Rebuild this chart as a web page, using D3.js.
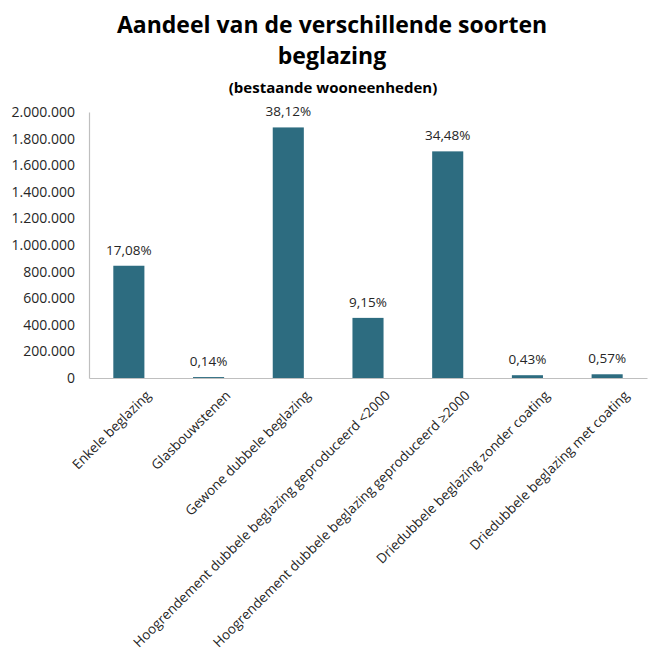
<!DOCTYPE html>
<html>
<head>
<meta charset="utf-8">
<script src="https://cdn.jsdelivr.net/npm/d3@7"></script>
<style>
  html, body { margin: 0; padding: 0; background: #ffffff; }
  svg { display: block; }
</style>
</head>
<body>
<svg id="chart" width="652" height="653"></svg>
<script>
const categories = [
  "Enkele beglazing",
  "Glasbouwstenen",
  "Gewone dubbele beglazing",
  "Hoogrendement dubbele beglazing geproduceerd <2000",
  "Hoogrendement dubbele beglazing geproduceerd \u22652000",
  "Driedubbele beglazing zonder coating",
  "Driedubbele beglazing met coating"
];
const values = [844000, 7000, 1884000, 452000, 1704000, 21000, 28000];
const percentLabels = ["17,08%", "0,14%", "38,12%", "9,15%", "34,48%", "0,43%", "0,57%"];
const yTicks = [0, 200000, 400000, 600000, 800000, 1000000, 1200000, 1400000, 1600000, 1800000, 2000000];
const titleLines = ["Aandeel van de verschillende soorten", "beglazing"];
const subtitle = "(bestaande wooneenheden)";

const font = "'Open Sans', 'Noto Sans', sans-serif";
const svg = d3.select("#chart");
const margin = { left: 89, right: 5 };
const W = 652;

const x = d3.scaleBand().domain(categories).range([margin.left, W - margin.right]).paddingInner(0.61).paddingOuter(0.305);
const y = d3.scaleLinear().domain([0, 2000000]).range([378, 112]);

const fmt = v => d3.format(",")(v).replace(/,/g, ".");

// title
svg.append("text").attr("x", 332).attr("y", 33).attr("text-anchor", "middle")
  .attr("font-family", font).attr("font-weight", "bold").attr("font-size", 23).attr("fill", "#000")
  .text(titleLines[0]);
svg.append("text").attr("x", 332).attr("y", 64).attr("text-anchor", "middle")
  .attr("font-family", font).attr("font-weight", "bold").attr("font-size", 23).attr("fill", "#000")
  .text(titleLines[1]);
svg.append("text").attr("x", 333).attr("y", 93).attr("text-anchor", "middle")
  .attr("font-family", font).attr("font-weight", "bold").attr("font-size", 15).attr("fill", "#000")
  .text(subtitle);

// y axis
const yAxis = d3.axisLeft(y).tickValues(yTicks).tickFormat(fmt).tickSize(0).tickPadding(14);
const gy = svg.append("g").attr("transform", `translate(${margin.left},0)`).call(yAxis);
gy.select(".domain").attr("stroke", "#bfbfbf").attr("stroke-width", 1.2);
gy.selectAll("text").attr("font-family", font).attr("font-size", 14).attr("fill", "#262626");

// x axis
const xAxis = d3.axisBottom(x).tickSize(0).tickPadding(0);
const gx = svg.append("g").attr("transform", `translate(0,${y(0)})`).call(xAxis);
gx.select(".domain").attr("stroke", "#bfbfbf").attr("stroke-width", 1.2);
gx.selectAll("text")
  .attr("font-family", font).attr("font-size", 13.5).attr("fill", "#262626")
  .attr("text-anchor", "end")
  .attr("dy", "0.35em")
  .attr("x", 0).attr("y", 0)
  .attr("transform", `translate(${x.bandwidth() / 2 + 4},15) rotate(-45)`);

// bars
svg.append("g").selectAll("rect").data(categories).join("rect")
  .attr("x", d => x(d))
  .attr("width", x.bandwidth())
  .attr("y", (d, i) => y(values[i]))
  .attr("height", (d, i) => y(0) - y(values[i]))
  .attr("fill", "#2d6c80");

// labels
svg.append("g").selectAll("text").data(categories).join("text")
  .attr("x", d => x(d) + x.bandwidth() / 2)
  .attr("y", (d, i) => y(values[i]) - 11)
  .attr("text-anchor", "middle")
  .attr("font-family", font).attr("font-size", 13.5).attr("fill", "#262626")
  .text((d, i) => percentLabels[i]);
</script>
</body>
</html>
